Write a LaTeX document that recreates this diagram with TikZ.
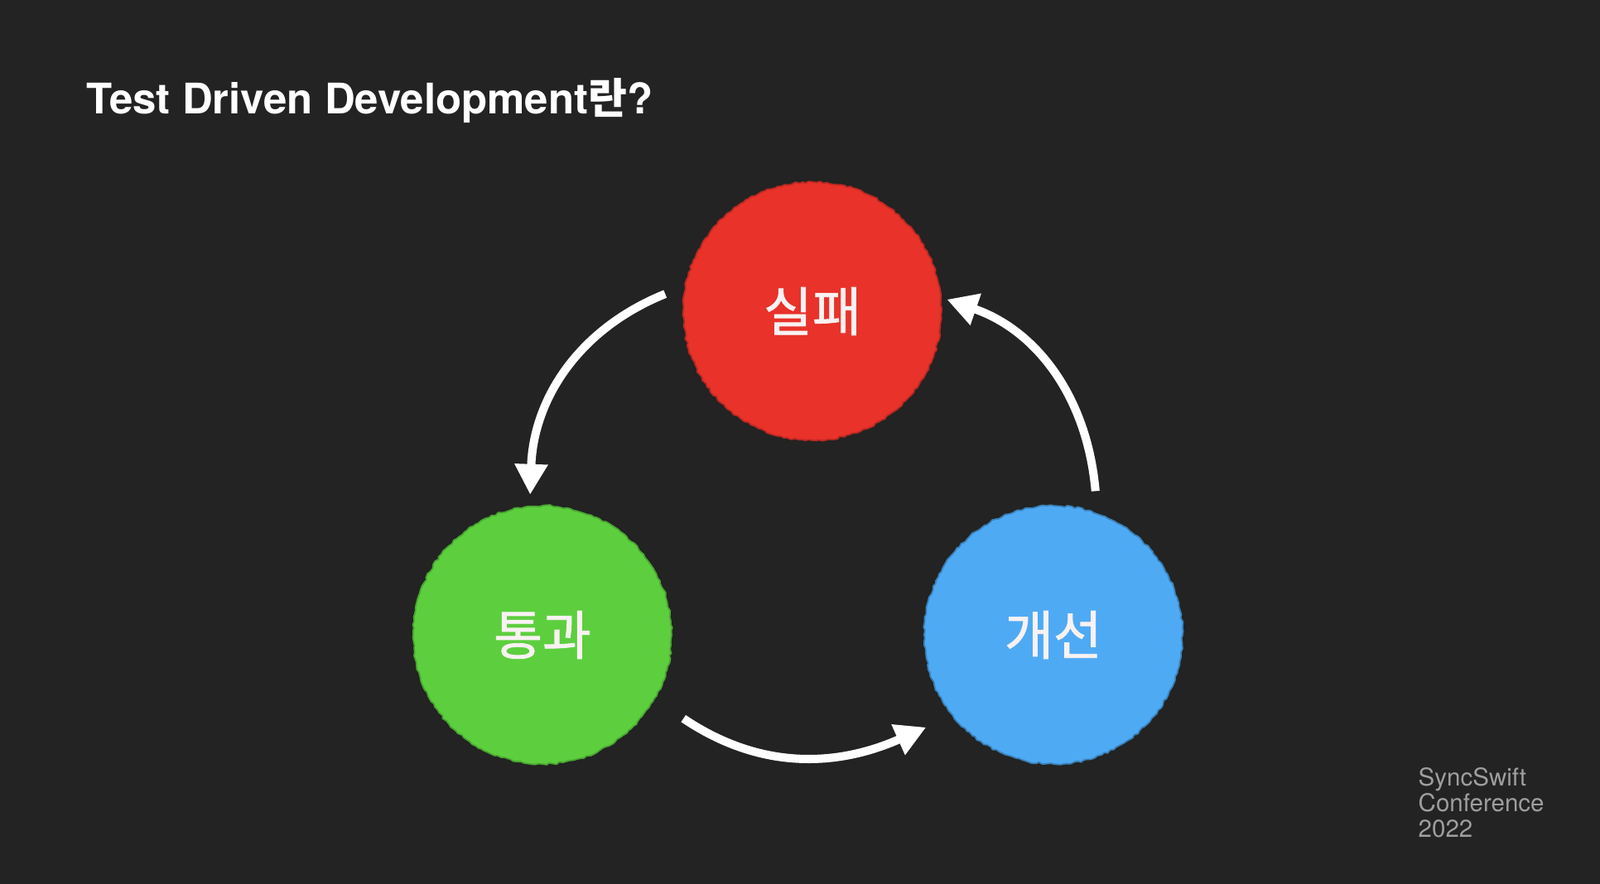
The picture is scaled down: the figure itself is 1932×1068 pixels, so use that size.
\documentclass[tikz,border=0pt]{standalone}
\usepackage{fontspec}
\setmainfont{TeX Gyre Heros}
\newfontfamily\kr{Noto Sans CJK KR}
\newfontfamily\krmid{Noto Sans CJK KR}[FakeBold=1.3]
\usepackage{tikz}
\usetikzlibrary{arrows.meta,decorations.pathmorphing,calc}

\definecolor{slide}{HTML}{222322}
\definecolor{failred}{HTML}{E8322A}
\definecolor{passgreen}{HTML}{5DCF3E}
\definecolor{refblue}{HTML}{4FAAF4}
\definecolor{labelwhite}{HTML}{F8F2F2}
\definecolor{confgray}{HTML}{9E9E9E}

\begin{document}
\begin{tikzpicture}[x=0.1mm, y=0.1mm]
		\tikzstyle{Stage}	= [circle, minimum size=31.2mm, inner sep=0pt, text=labelwhite, font=\krmid\fontsize{18.2pt}{21pt}\selectfont, decorate, decoration={random steps, segment length=1.2pt, amplitude=0.35pt}]
		\tikzstyle{Fail}	= [fill=failred, draw=failred!80!black, line width=0.5pt]
		\tikzstyle{Pass}	= [fill=passgreen, draw=passgreen!80!black, line width=0.5pt]
		\tikzstyle{Refactor}	= [fill=refblue, draw=refblue!75!black, line width=0.5pt]
		\tikzstyle{Cycle}	= [draw=white, line width=2.85pt, -{Triangle[length=10.5pt, width=10.8pt]}]

		\fill[slide] (0,0) rectangle (1932,-1068);
		\useasboundingbox (0,0) rectangle (1932,-1068);

		\node (title) at (104,-138) [anchor=base west, inner sep=0pt, text=white, font=\bfseries\fontsize{14.5pt}{17pt}\selectfont] {Test Driven Development{\kr 란}?};

		\node (fail) at (981,-376) [Stage][Fail] {실패};
		\node (pass) at (655,-767) [Stage][Pass] {통과};
		\node (refac) at (1272,-767) [Stage][Refactor] {개선};

		% arrow ends, kept off the circles
		\coordinate (fp1) at ($(fail)+(173.3:179)$);
		\coordinate (fp2) at ($(pass)+(95:170)$);
		\coordinate (pr1) at ($(pass)+(-30.7:198)$);
		\coordinate (pr2) at ($(refac)+(216:190)$);
		\coordinate (rf1) at ($(refac)+(73.7:181)$);
		\coordinate (rf2) at ($(fail)+(5:163)$);

		\draw (fp1) to[out=202, in=88] (fp2) [Cycle];
		\draw (pr1) to[out=-34, in=204] (pr2) [Cycle];
		\draw (rf1) to[out=95, in=-19] (rf2) [Cycle];

		\node (conf) at (1712,-927) [anchor=north west, inner sep=0pt, align=left, text=confgray, font=\fontsize{8.4pt}{8.8pt}\selectfont] {SyncSwift\\Conference\\2022};
	\end{tikzpicture}
\end{document}
